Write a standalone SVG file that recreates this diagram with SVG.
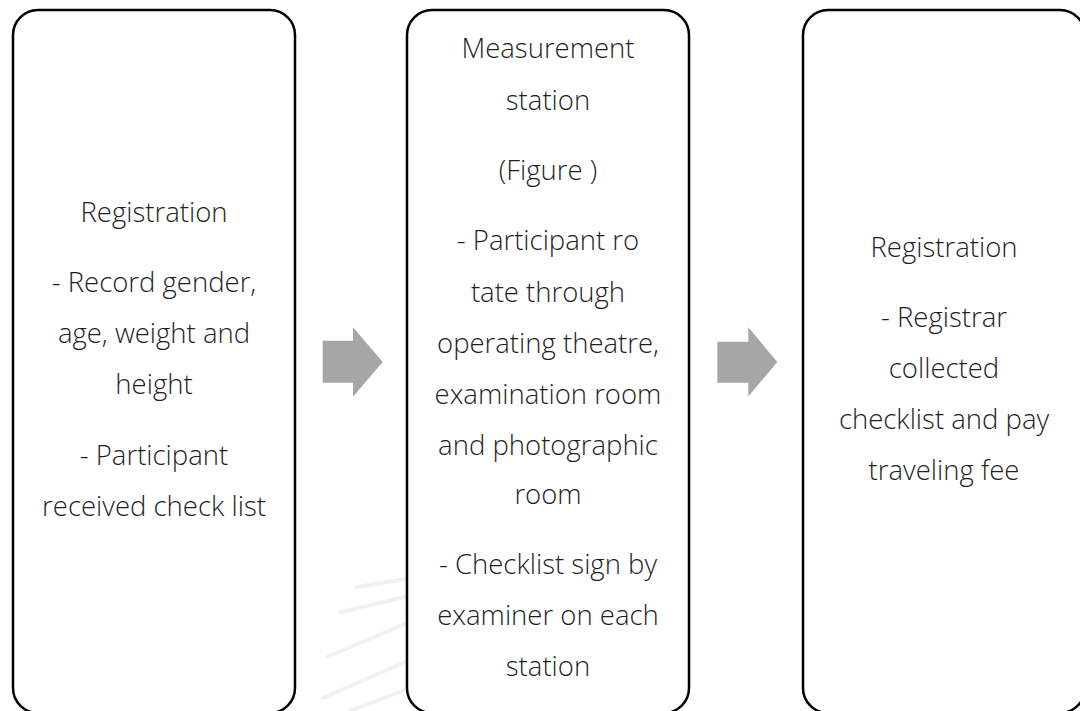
<svg xmlns="http://www.w3.org/2000/svg" width="1080" height="711" viewBox="0 0 1080 711">
<style>
.box{fill:#fff;stroke:#000;stroke-width:2.5}
.arr{fill:#a6a6a6}
text{font-family:"Open Sans","Noto Sans","Liberation Sans",sans-serif;font-size:27.5px;font-weight:300;fill:#1f1f1f;text-anchor:middle}
.wm{stroke:#f1f1f1;stroke-width:4;fill:none;stroke-linecap:round}
</style>
<rect width="1080" height="711" fill="#fff"/>
<g id="watermark">
<path class="wm" d="M357 587 L405 579"/>
<path class="wm" d="M340 612 L405 597"/>
<path class="wm" d="M327 657 L405 624"/>
<path class="wm" d="M323 698 L405 662"/>
<path class="wm" d="M350 711 L405 690"/>
</g>
<g id="node1">
<rect class="box" x="13" y="10" width="282" height="703" rx="25"/>
<text x="154" y="222">Registration</text>
<text x="154" y="292">- Record gender,</text>
<text x="154" y="343">age, weight and</text>
<text x="154" y="394">height</text>
<text x="154" y="465">- Participant</text>
<text x="154" y="516">received check list</text>
</g>
<g id="node2">
<rect class="box" x="407" y="10" width="282" height="703" rx="25"/>
<text x="548" y="58">Measurement</text>
<text x="548" y="110">station</text>
<text x="548" y="180">(Figure )</text>
<text x="548" y="250">- Participant ro</text>
<text x="548" y="302">tate through</text>
<text x="548" y="353">operating theatre,</text>
<text x="548" y="404">examination room</text>
<text x="548" y="455">and photographic</text>
<text x="548" y="504">room</text>
<text x="548" y="574">- Checklist sign by</text>
<text x="548" y="625">examiner on each</text>
<text x="548" y="676">station</text>
</g>
<g id="node3">
<rect class="box" x="803" y="10" width="282" height="703" rx="25"/>
<text x="944" y="257">Registration</text>
<text x="944" y="327">- Registrar</text>
<text x="944" y="378">collected</text>
<text x="944" y="429">checklist and pay</text>
<text x="944" y="480">traveling fee</text>
</g>
<g id="connectors">
<polygon class="arr" points="322.7,340.7 353,340.7 353,327.3 382.7,362 353,396.7 353,382.7 322.7,382.7"/>
<polygon class="arr" points="717.3,341.7 748.3,341.7 748.3,327.3 777.3,362 748.3,396.5 748.3,382.7 717.3,382.7"/>
</g>
</svg>
